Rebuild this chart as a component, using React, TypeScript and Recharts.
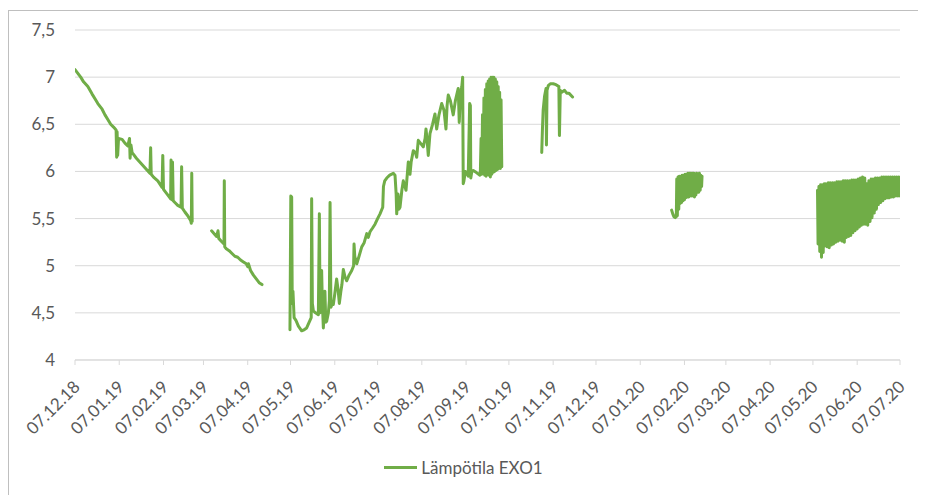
import { CartesianGrid, Legend, Line, LineChart, XAxis, YAxis } from "recharts";

// [päivä alkaen 07.12.18, lämpötila °C]
const DEC_MAR_2019: [number, number][] = [
  [0, 7.08], [2, 7.04], [4, 7.0], [6, 6.95], [9, 6.9], [12, 6.82], [14, 6.77], [16, 6.72],
  [19, 6.66], [21, 6.6], [23, 6.55], [25, 6.5], [27, 6.47], [28.8, 6.44], [29.2, 6.15],
  [29.5, 6.42], [29.9, 6.17], [30.5, 6.35], [33, 6.34], [35, 6.3], [37, 6.27], [38.2, 6.35],
  [38.6, 6.14], [39.2, 6.28], [40, 6.2], [41, 6.18], [43, 6.14], [46, 6.09], [49, 6.04],
  [52.5, 5.98], [53, 6.25], [53.4, 5.97], [55, 5.94], [58, 5.9], [61, 5.83], [61.5, 6.17],
  [62, 5.81], [64, 5.77], [66, 5.73], [67, 5.71], [67.3, 6.12], [67.8, 5.7], [68.3, 6.1],
  [68.8, 5.69], [70, 5.67], [72, 5.64], [74.3, 5.62], [74.7, 6.05], [75.2, 5.61], [77, 5.57],
  [79, 5.53], [81, 5.48], [81.5, 5.45], [81.8, 5.98], [82.1, 5.47],
];

const MAR_APR_2019: [number, number][] = [
  [95.7, 5.37], [97.5, 5.34], [99.2, 5.31], [100.2, 5.37], [100.7, 5.29], [102.5, 5.26],
  [104.4, 5.23], [104.6, 5.9], [104.9, 5.2], [106, 5.18], [108, 5.16], [110, 5.13],
  [112, 5.1], [114, 5.09], [116, 5.06], [118, 5.04], [120, 5.02], [121, 4.99], [121.5, 5.02],
  [123, 4.95], [125, 4.9], [127, 4.86], [129, 4.82], [131, 4.8],
];

const MAY_OCT_2019: [number, number][] = [
  [150.6, 4.32], [151.2, 5.74], [151.8, 5.73], [152.2, 4.6], [152.7, 4.73], [153.5, 4.45],
  [154.8, 4.42], [156.5, 4.36], [158.8, 4.31], [160.5, 4.32], [162.3, 4.34], [164, 4.4],
  [165.5, 4.45], [165.8, 5.71], [166.3, 4.6], [167, 4.52], [168.5, 4.5], [170.5, 4.48],
  [171.2, 5.55], [171.7, 4.5], [172.1, 4.52], [172.8, 4.95], [173.3, 4.6], [174, 4.34],
  [175.1, 4.73], [175.7, 4.4], [176.3, 4.41], [177.5, 4.5], [178.2, 4.63], [178.7, 5.67],
  [179.3, 4.56], [180.3, 4.6], [181, 4.59], [182, 4.7], [183.3, 4.86], [184.3, 4.75],
  [185.2, 4.6], [186.2, 4.72], [187, 4.8], [188, 4.96], [189.2, 4.88], [190.4, 4.84],
  [192, 4.9], [193.9, 4.95], [195.2, 5.0], [195.5, 5.23], [196, 5.1], [197.4, 5.02],
  [199, 5.1], [200.9, 5.2], [202.5, 5.24], [204.4, 5.34], [205.5, 5.3], [206.7, 5.36],
  [208.5, 5.4], [210.2, 5.44], [212, 5.5], [213.7, 5.55], [215.6, 5.62], [216.1, 5.84],
  [217, 5.9], [218.4, 5.93], [220.5, 5.96], [223, 5.98], [224.2, 5.96], [225, 5.76],
  [225.4, 5.55], [226.3, 5.76], [227, 5.6], [227.7, 5.62], [229, 5.8], [230, 5.9],
  [231, 5.85], [231.9, 5.8], [232.7, 5.95], [233.5, 6.1], [234.7, 5.97], [235.5, 6.1],
  [237, 6.22], [238.5, 6.2], [239.4, 6.15], [240.5, 6.33], [242, 6.3], [244, 6.26],
  [245.3, 6.35], [245.9, 6.45], [246.6, 6.35], [247.5, 6.17], [248.7, 6.4], [250.5, 6.5],
  [252.2, 6.61], [253.4, 6.45], [255, 6.6], [256.9, 6.72], [258.5, 6.65], [259.9, 6.45],
  [260.7, 6.7], [261.5, 6.81], [263, 6.75], [265, 6.6], [266.5, 6.75], [268.5, 6.88],
  [269.2, 6.52], [270, 6.8], [271, 6.9], [271.6, 7.0], [272, 5.87], [272.5, 5.9],
  [273.5, 6.0], [274.4, 5.98], [275.5, 5.95], [276.5, 6.72], [277, 6.7], [277.3, 5.93],
  [278, 6.0], [279, 6.01], [281, 5.99], [283.7, 5.96],
  [284, 6.0], [284.5, 6.35], [285, 5.97], [285.5, 6.6], [286, 5.99], [286.5, 6.78],
  [287, 5.96], [287.5, 6.87], [288, 5.95], [288.5, 6.93], [289, 5.98], [289.5, 6.96],
  [290, 5.96], [290.5, 6.98], [291, 5.94], [291.5, 7.0], [292, 5.97], [292.5, 7.0],
  [293, 5.99], [293.5, 7.0], [294, 6.0], [294.5, 6.98], [295, 6.01], [295.5, 6.95],
  [296, 6.02], [296.5, 6.9], [297, 6.03], [297.5, 6.84], [298, 6.03], [298.5, 6.76],
  [299, 6.05],
];

const NOV_2019: [number, number][] = [
  [327, 6.2], [327.5, 6.45], [328, 6.65], [329, 6.8], [330, 6.88], [330.3, 6.28],
  [330.7, 6.86], [331.6, 6.91], [333, 6.93], [335, 6.93], [337, 6.92], [339, 6.9],
  [339.4, 6.38], [340, 6.86], [341, 6.84], [343, 6.86], [344.5, 6.83], [346, 6.83],
  [348.6, 6.79],
];

const FEB_2020: [number, number][] = [
  [418, 5.59], [418.8, 5.55], [419.6, 5.52], [420.5, 5.51], [421.3, 5.52], [421.6, 5.92],
  [422, 5.53], [422.5, 5.94], [423, 5.6], [423.5, 5.95], [424, 5.66], [424.5, 5.95],
  [425, 5.67], [425.5, 5.96], [426, 5.69], [426.5, 5.96], [427, 5.7], [427.5, 5.97],
  [428, 5.72], [428.5, 5.97], [429, 5.73], [429.5, 5.98], [430, 5.73], [430.5, 5.98],
  [431, 5.74], [431.5, 5.98], [432, 5.74], [432.5, 5.98], [433, 5.74], [433.5, 5.98],
  [434, 5.73], [434.5, 5.97], [435, 5.75], [435.5, 5.98], [436, 5.78], [436.5, 5.97],
  [437, 5.78], [437.5, 5.98], [438, 5.8], [438.5, 5.96], [439, 5.84], [439.3, 5.95],
];

const MAY_JUL_2020: [number, number][] = [
  [520.2, 5.8], [520.6, 5.23], [521.2, 5.84], [521.8, 5.15], [522.4, 5.86], [523, 5.09],
  [523.6, 5.86], [524.2, 5.14], [525, 5.87], [525.5, 5.21], [526.2, 5.87], [527, 5.2],
  [527.8, 5.88], [528.4, 5.19], [529.2, 5.88], [530, 5.22], [530.8, 5.88], [531.4, 5.23],
  [532.2, 5.88], [533, 5.25], [533.8, 5.89], [534.5, 5.26], [535.3, 5.89], [536, 5.27],
  [536.8, 5.89], [537.5, 5.26], [538.3, 5.9], [539, 5.25], [539.7, 5.9], [540.4, 5.3],
  [541.2, 5.9], [542, 5.31], [542.8, 5.9], [543.5, 5.32], [544.3, 5.91], [545, 5.35],
  [545.8, 5.91], [546.5, 5.37], [547.3, 5.91], [548, 5.39], [548.8, 5.92], [549.5, 5.41],
  [550.3, 5.93], [551, 5.43], [551.8, 5.94], [552.5, 5.44], [553.3, 5.93], [554, 5.44],
  [554.7, 5.87], [555.4, 5.43], [556.2, 5.9], [557, 5.47], [557.8, 5.92], [558.4, 5.51],
  [559.2, 5.92], [560, 5.56], [560.8, 5.93], [561.5, 5.6], [562.3, 5.93], [563, 5.65],
  [563.8, 5.93], [564.5, 5.67], [565.3, 5.94], [566, 5.69], [566.8, 5.94], [567.5, 5.71],
  [568.3, 5.94], [569, 5.72], [569.8, 5.94], [570.5, 5.72], [571.3, 5.94], [572, 5.73],
  [572.8, 5.94], [573.5, 5.73], [574.3, 5.94], [575, 5.74], [575.8, 5.94], [576.5, 5.74],
  [577.3, 5.94], [578, 5.74],
];

const TICK_DAYS = [0, 31, 62, 90, 121, 151, 182, 212, 243, 274, 304, 335, 365, 396, 427, 456, 487, 517, 548, 578];
const TICK_LABELS = [
  "07.12.18", "07.01.19", "07.02.19", "07.03.19", "07.04.19", "07.05.19", "07.06.19",
  "07.07.19", "07.08.19", "07.09.19", "07.10.19", "07.11.19", "07.12.19", "07.01.20",
  "07.02.20", "07.03.20", "07.04.20", "07.05.20", "07.06.20", "07.07.20",
];
const Y_TICKS = [4, 4.5, 5, 5.5, 6, 6.5, 7, 7.5];

const SEGMENTS = [DEC_MAR_2019, MAR_APR_2019, MAY_OCT_2019, NOV_2019, FEB_2020, MAY_JUL_2020];
const SERIES_NAME = "Lämpötila EXO1";
const GREEN = "#70ad47";
const TEXT = "#595959";
const FONT = "Lato, 'Open Sans', sans-serif";

// katkot mittaussarjojen väliin
const rows: { day: number; temp: number | null }[] = [];
SEGMENTS.forEach((seg, i) => {
  if (i > 0) rows.push({ day: seg[0][0] - 0.5, temp: null });
  seg.forEach(([day, temp]) => rows.push({ day, temp }));
});

function DateTick({ x, y, payload }: any) {
  const idx = TICK_DAYS.indexOf(payload.value);
  const ax = x + 6;
  const ay = y + 21;
  return (
    <text
      x={ax}
      y={ay}
      transform={`rotate(-45 ${ax} ${ay})`}
      textAnchor="end"
      fill={TEXT}
      fontSize={17}
      fontFamily={FONT}
    >
      {idx >= 0 ? TICK_LABELS[idx] : ""}
    </text>
  );
}

function LegendContent() {
  return (
    <div
      style={{
        display: "flex",
        justifyContent: "center",
        alignItems: "center",
        height: 20,
        paddingLeft: 20,
        fontFamily: FONT,
        fontSize: 17,
        color: TEXT,
      }}
    >
      <span style={{ display: "inline-block", width: 33, height: 3, background: GREEN, marginRight: 4 }} />
      <span>{SERIES_NAME}</span>
    </div>
  );
}

export default function App() {
  return (
    <div style={{ width: 918, height: 487, overflow: "hidden", position: "relative" }}>
      <div
        style={{
          position: "absolute",
          left: 0,
          top: 2,
          width: 940,
          height: 520,
          border: "1px solid #bfbfbf",
          boxSizing: "border-box",
        }}
      />
      <div style={{ position: "absolute", left: -1, top: 0 }}>
        <LineChart width={919} height={487} data={rows} margin={{ top: 22, right: 26, bottom: 18, left: 0 }}>
          <CartesianGrid stroke="#d9d9d9" vertical={false} />
          <XAxis
            dataKey="day"
            type="number"
            domain={[0, 578]}
            ticks={TICK_DAYS}
            interval={0}
            height={97}
            stroke="#d9d9d9"
            tickSize={5}
            tickMargin={2}
            tick={<DateTick />}
            allowDataOverflow
          />
          <YAxis
            domain={[4, 7.5]}
            ticks={Y_TICKS}
            width={68}
            axisLine={false}
            tickLine={false}
            tickSize={0}
            tickMargin={20}
            tick={{ fill: TEXT, fontSize: 17, fontFamily: FONT }}
            tickFormatter={(v) => String(v).replace(".", ",")}
            allowDataOverflow
          />
          <Legend verticalAlign="bottom" content={<LegendContent />} />
          <Line
            dataKey="temp"
            name={SERIES_NAME}
            type="linear"
            stroke={GREEN}
            strokeWidth={3}
            strokeLinejoin="round"
            strokeLinecap="round"
            dot={false}
            connectNulls={false}
            isAnimationActive={false}
          />
        </LineChart>
      </div>
    </div>
  );
}
